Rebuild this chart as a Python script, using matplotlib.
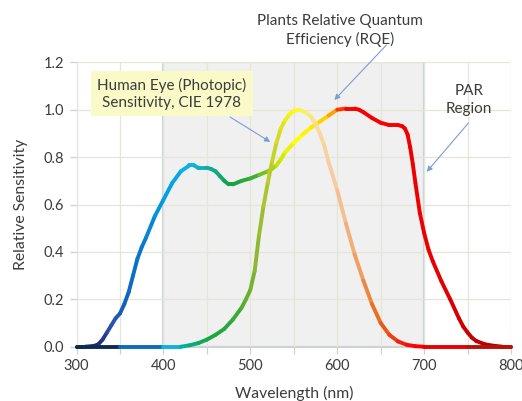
import numpy as np
import matplotlib
matplotlib.use('Agg')
import matplotlib.pyplot as plt
from matplotlib.collections import LineCollection
from matplotlib.colors import LinearSegmentedColormap, Normalize
from matplotlib.ticker import MultipleLocator

# Plants relative quantum efficiency (RQE)
rqe_wl = [300, 310, 320, 325, 330, 335, 340, 345, 350, 355, 360, 365, 370, 375,
          380, 390, 400, 410, 420, 430, 435, 440, 450, 455, 460, 465, 470, 475,
          480, 490, 500, 510, 520, 525, 530, 535, 540, 550, 560, 570, 580, 590,
          600, 610, 620, 625, 630, 640, 650, 660, 670, 675, 678, 681, 684, 687,
          690, 695, 700, 705, 710, 720, 730, 740, 745, 750, 755, 760, 770, 780,
          790, 800]
rqe_val = [0.0, 0.0, 0.003, 0.01, 0.03, 0.06, 0.09, 0.12, 0.14, 0.18, 0.23, 0.30,
           0.37, 0.42, 0.46, 0.55, 0.62, 0.69, 0.74, 0.765, 0.765, 0.755, 0.755,
           0.75, 0.74, 0.72, 0.70, 0.685, 0.685, 0.70, 0.71, 0.725, 0.74, 0.75,
           0.765, 0.79, 0.82, 0.86, 0.895, 0.925, 0.95, 0.975, 1.0, 1.005, 1.005,
           1.0, 0.99, 0.965, 0.945, 0.935, 0.935, 0.93, 0.92, 0.895, 0.84, 0.77,
           0.69, 0.565, 0.48, 0.41, 0.36, 0.275, 0.20, 0.12, 0.085, 0.06, 0.038,
           0.024, 0.01, 0.004, 0.0, 0.0]

# Human eye photopic sensitivity (CIE 1978)
eye_wl = [300, 350, 400, 420, 430, 440, 450, 460, 470, 480, 490, 495, 500, 505,
          510, 515, 520, 525, 530, 535, 540, 545, 550, 555, 560, 565, 570, 575,
          580, 585, 590, 600, 610, 620, 630, 640, 650, 660, 670, 680, 690, 700,
          750, 800]
eye_val = [0.0, 0.0, 0.0, 0.0, 0.006, 0.015, 0.03, 0.05, 0.075, 0.115, 0.165,
           0.20, 0.24, 0.32, 0.47, 0.59, 0.69, 0.78, 0.86, 0.92, 0.955, 0.98,
           0.995, 1.0, 0.995, 0.985, 0.97, 0.94, 0.90, 0.85, 0.78, 0.66, 0.52,
           0.39, 0.28, 0.18, 0.10, 0.05, 0.022, 0.008, 0.002, 0.0, 0.0, 0.0]

TEXT = '#3c3c3c'
GRID = '#e6e6d8'
ARROW = '#7a9fd2'

# wavelength -> line colour stops
rqe_stops = [(300, '#0a1a40'), (325, '#1e2a70'), (340, '#3050b0'), (355, '#1060c0'),
             (380, '#0880d0'), (400, '#00a0e0'), (430, '#10b0e8'), (445, '#10b0c0'),
             (465, '#10a870'), (480, '#10a040'), (505, '#40b030'), (525, '#a0d010'),
             (540, '#e0f000'), (555, '#ffff00'), (580, '#ffe000'), (595, '#ffb000'),
             (608, '#ff2000'), (615, '#ff0000'), (720, '#e80000'), (760, '#c00000'),
             (800, '#a00000')]
eye_stops = [(300, '#0b1e3a'), (350, '#123c70'), (380, '#0a78c8'), (405, '#10b4f0'),
             (425, '#00b0a0'), (450, '#10a848'), (480, '#30a838'), (500, '#70b030'),
             (515, '#a8c030'), (535, '#d8e020'), (550, '#ffff00'), (565, '#f8f070'),
             (580, '#f8d8a0'), (600, '#f8c8a0'), (625, '#f0a060'), (645, '#e87020'),
             (670, '#f03010'), (690, '#ff0000'), (740, '#e00000'), (770, '#c00000'),
             (800, '#a05020')]


def spectral_cmap(stops):
    return LinearSegmentedColormap.from_list(
        'spec', [((w - 300) / 500, c) for w, c in stops])


def gradient_line(ax, wl, val, stops, z):
    pts = np.column_stack([wl, val])
    segs = np.stack([pts[:-1], pts[1:]], axis=1)
    mids = (np.array(wl[:-1]) + np.array(wl[1:])) / 2
    lc = LineCollection(segs, cmap=spectral_cmap(stops), norm=Normalize(300, 800),
                        linewidths=2.8, capstyle='round', joinstyle='round',
                        zorder=z, clip_on=False)
    lc.set_array(mids)
    ax.add_collection(lc)


plt.rcParams['font.family'] = ['Lato', 'DejaVu Sans']
fig = plt.figure(figsize=(5.22, 4.01), dpi=100)
ax = fig.add_axes([0.1466, 0.1354, 0.8324, 0.7092])

ax.axvspan(400, 700, ymin=0, ymax=1, facecolor='#f0f0f0', edgecolor='#c9d3da',
           lw=1.6, zorder=0.3)

gradient_line(ax, rqe_wl, rqe_val, rqe_stops, 2)
gradient_line(ax, eye_wl, eye_val, eye_stops, 3)

ax.set_xlim(300, 800)
ax.set_ylim(0, 1.2)
ax.xaxis.set_major_locator(MultipleLocator(100))
ax.xaxis.set_minor_locator(MultipleLocator(50))
ax.yaxis.set_major_locator(MultipleLocator(0.2))
ax.yaxis.set_major_formatter(lambda v, p: f'{v:.1f}')
ax.set_axisbelow(True)
ax.grid(True, which='both', color=GRID, lw=0.9)
ax.tick_params(which='both', colors='#d0d0d0', labelcolor=TEXT, labelsize=10.5,
               length=5, width=0.9, pad=4)
for s in ['top', 'right']:
    ax.spines[s].set_visible(False)
ax.spines['left'].set_color(GRID)
ax.spines['bottom'].set_color('#d0d0d0')

ax.set_xlabel('Wavelength (nm)', fontsize=11.3, color=TEXT, labelpad=9)
ax.set_ylabel('Relative Sensitivity', fontsize=11.3, color=TEXT, labelpad=11)

arrow = dict(arrowstyle='-|>', color=ARROW, lw=0.8, mutation_scale=8,
             shrinkA=0, shrinkB=0)
ax.annotate('', xy=(522.9, 0.864), xytext=(476.8, 0.969), arrowprops=arrow)
ax.text(409.4, 1.068, 'Human Eye (Photopic)\nSensitivity, CIE 1978', ha='center',
        va='center', fontsize=11, color=TEXT, linespacing=1.25, zorder=5,
        bbox=dict(boxstyle='square,pad=0.42', fc='#fafac8', ec='none'))

ax.annotate('', xy=(596.7, 1.041), xytext=(656.6, 1.273), arrowprops=arrow,
            annotation_clip=False)
ax.text(603.6, 1.334, 'Plants Relative Quantum\nEfficiency (RQE)', ha='center',
        va='center', fontsize=11, color=TEXT, linespacing=1.3, clip_on=False)

ax.annotate('', xy=(703, 0.738), xytext=(751, 0.944), arrowprops=arrow)
ax.text(751.6, 1.041, 'PAR\nRegion', ha='center', va='center', fontsize=11,
        color=TEXT, linespacing=1.3)

fig.savefig('out.png', dpi=100, facecolor='white')
